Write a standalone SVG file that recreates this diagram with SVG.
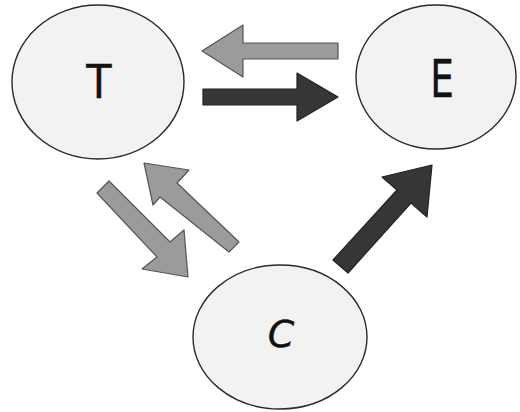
<svg xmlns="http://www.w3.org/2000/svg" width="520" height="412" viewBox="0 0 520 412">
<style>
.node{fill:#f2f2f2;stroke:#2a2a2a;stroke-width:1.4}
.lbl{font-family:"DejaVu Sans","Liberation Sans",sans-serif;fill:#111;stroke:#111;stroke-width:0.4;text-anchor:middle}
.gray{fill:#9b9b9b;stroke:#555;stroke-width:1.2;stroke-linejoin:round}
.dark{fill:#363636;stroke:#222;stroke-width:1.2;stroke-linejoin:round}
</style>
<rect width="520" height="412" fill="#fff"/>
<g id="connectors">
<polygon class="gray" points="338,43 243,43 243,25 202,51 243,77 243,59 338,59"/>
<polygon class="dark" points="203,89 297,89 297,73 338,97 297,121 297,105 203,105"/>
<polygon class="gray" points="97,193 109,181 170,242 184,230 188,277 142,269 157,257"/>
<polygon class="gray" points="239,242 229,252 160,197 153,205 144,163 189,170 177,183"/>
<polygon class="dark" points="333,260 348,273 411,203 427,217 432,165 382,177 397,190"/>
</g>
<g id="node-T">
<ellipse class="node" cx="98" cy="82" rx="86" ry="77"/>
<text class="lbl" x="0" y="0" font-size="46" transform="translate(99,98) scale(0.9,1)">T</text>
</g>
<g id="node-E">
<ellipse class="node" cx="436" cy="77" rx="80" ry="72"/>
<text class="lbl" x="0" y="0" font-size="52" transform="translate(442,97) scale(0.72,1)">E</text>
</g>
<g id="node-C">
<ellipse class="node" cx="280" cy="337" rx="87" ry="72"/>
<text class="lbl" x="281" y="347" font-size="38" font-style="italic">C</text>
</g>
</svg>
